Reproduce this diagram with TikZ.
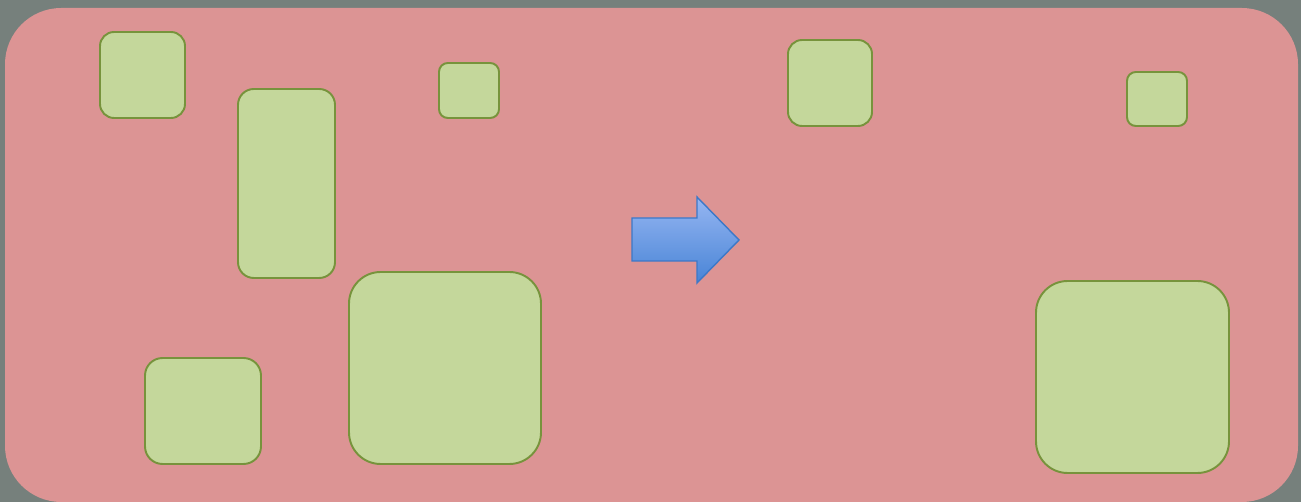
\documentclass[tikz,border=0pt]{standalone}
\usetikzlibrary{calc}
\definecolor{bgnoise}{RGB}{118,128,124}
\definecolor{panelpink}{RGB}{220,148,148}
\definecolor{boxgreen}{RGB}{196,215,155}
\definecolor{boxline}{RGB}{119,147,60}
\definecolor{arrtop}{RGB}{150,182,242}
\definecolor{arrbot}{RGB}{72,132,214}
\definecolor{arrline}{RGB}{60,120,200}
\tikzset{
  panel/.style ={fill=panelpink,rounded corners=32pt},
  gbox/.style  ={draw=boxline,fill=boxgreen,line width=1.1pt},
  bigarr/.style={draw=arrline,line width=0.8pt,top color=arrtop,bottom color=arrbot},
}

\begin{document}
\begin{tikzpicture}[x=0.02cm,y=-0.02cm]
  \useasboundingbox (0,0) rectangle (1301,502);
  % backdrop and panel
  \fill[bgnoise] (0,0) rectangle (1301,502);
  \fill[panel] (5,8) rectangle (1298,502);

  % boxes before
  \draw[gbox,rounded corners=8pt]  (100,32)  rectangle (185,118);
  \draw[gbox,rounded corners=9pt]  (238,89)  rectangle (335,278);
  \draw[gbox,rounded corners=5pt]  (439,63)  rectangle (499,118);
  \draw[gbox,rounded corners=10pt] (145,358) rectangle (261,464);
  \draw[gbox,rounded corners=18pt] (349,272) rectangle (541,464);

  % arrow
  \shade[bigarr] (632,218) -- (697,218) -- (697,197) -- (739,240)
    -- (697,283) -- (697,261) -- (632,261) -- cycle;

  % boxes after
  \draw[gbox,rounded corners=8pt]  (788,40)   rectangle (872,126);
  \draw[gbox,rounded corners=5pt]  (1127,72)  rectangle (1187,126);
  \draw[gbox,rounded corners=18pt] (1036,281) rectangle (1229,473);
\end{tikzpicture}
\end{document}
